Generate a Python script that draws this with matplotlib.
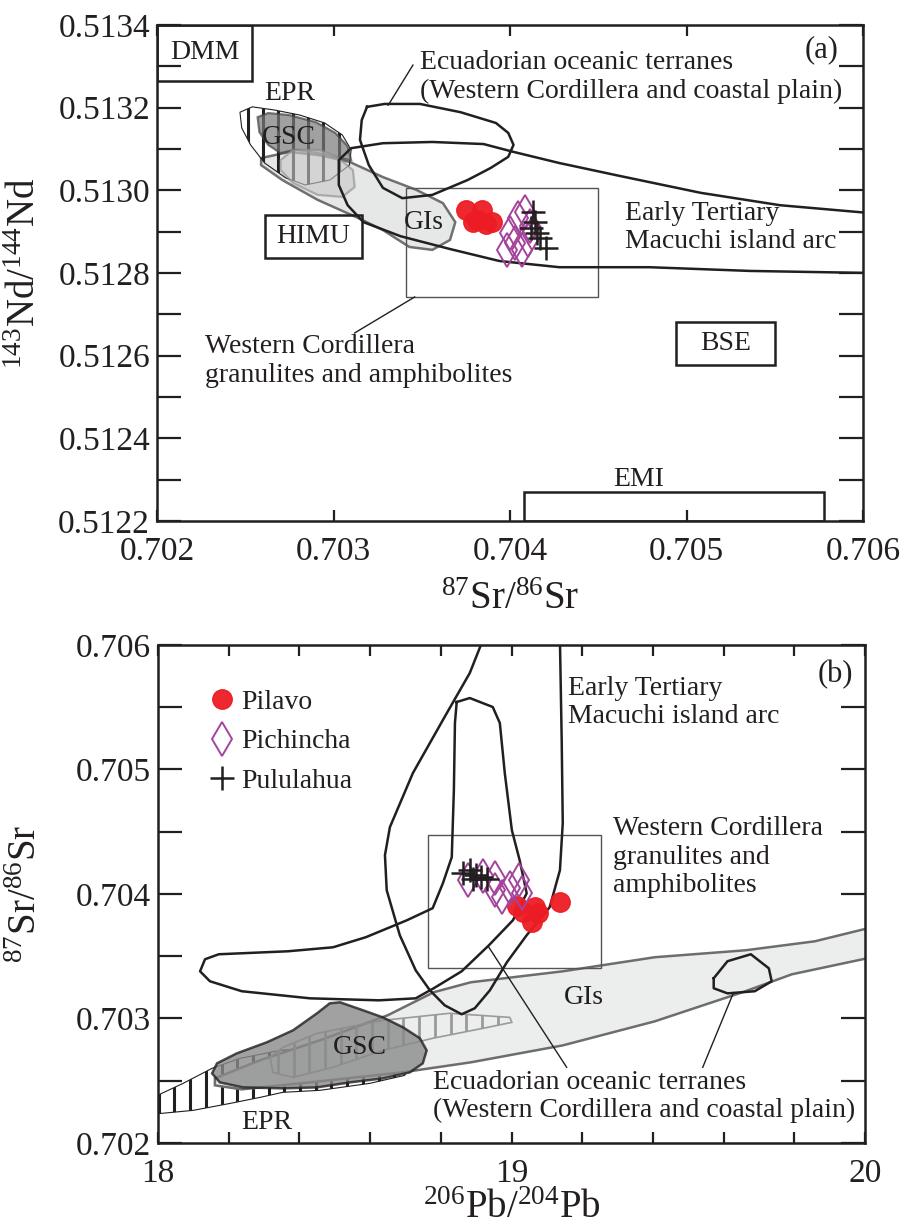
import numpy as np
import matplotlib
matplotlib.use("Agg")
import matplotlib.pyplot as plt
from matplotlib.patches import Polygon, Rectangle
from matplotlib.ticker import MultipleLocator, FormatStrFormatter

plt.rcParams['font.family'] = ['Liberation Serif', 'DejaVu Serif']
plt.rcParams['mathtext.fontset'] = 'custom'
plt.rcParams['mathtext.rm'] = 'Liberation Serif'
plt.rcParams['mathtext.default'] = 'regular'

INK = '#231f20'
RED = '#ed1c24'
PURPLE = '#a5439c'
FS = 20

# ============================================================
# PANEL (a) DATA  - 87Sr/86Sr vs 143Nd/144Nd
# ============================================================
pil_sr_a = [0.703751, 0.703841, 0.703813, 0.703898, 0.703864, 0.703790]
pil_nd_a = [0.512952, 0.512952, 0.512928, 0.512923, 0.512919, 0.512923]
pic_sr_a = [0.704045, 0.704085, 0.704000, 0.704028, 0.703983, 0.704068, 0.704102, 0.704113]
pic_nd_a = [0.512933, 0.512948, 0.512897, 0.512873, 0.512856, 0.512856, 0.512880, 0.512914]
pul_sr_a = [0.704130, 0.704142, 0.704119, 0.704153, 0.704170, 0.704204]
pul_nd_a = [0.512948, 0.512923, 0.512909, 0.512897, 0.512885, 0.512860]

# mantle reservoirs: name, sr0, sr1, nd0, nd1
reservoirs_a = [
    ("DMM", 0.70200, 0.70254, 0.513265, 0.513400),
    ("HIMU", 0.70261, 0.70316, 0.512836, 0.512940),
    ("BSE", 0.70494, 0.70550, 0.512577, 0.512681),
    ("EMI", 0.70408, 0.70578, 0.512200, 0.512270),
]

# field outlines
epr_sr_a = [0.70247, 0.70254, 0.70267, 0.70281, 0.70295, 0.70305, 0.70310,
            0.70309, 0.70298, 0.70284, 0.70273, 0.70261, 0.70253, 0.70248]
epr_nd_a = [0.513189, 0.513202, 0.513194, 0.513182, 0.513163, 0.513134, 0.513098,
            0.513061, 0.513025, 0.513013, 0.513030, 0.513066, 0.513110, 0.513151]
gsc_sr_a = [0.70257, 0.70263, 0.70275, 0.70290, 0.70301, 0.70308, 0.70310,
            0.70303, 0.70291, 0.70278, 0.70270, 0.70263, 0.70258]
gsc_nd_a = [0.513177, 0.513187, 0.513182, 0.513165, 0.513139, 0.513107, 0.513073,
            0.513078, 0.513090, 0.513098, 0.513090, 0.513110, 0.513141]
gis_sr_a = [0.70259, 0.70275, 0.70292, 0.70309, 0.70328, 0.70347, 0.70362, 0.70369,
            0.70366, 0.70356, 0.70343, 0.70328, 0.70313, 0.70291, 0.70271, 0.70259]
gis_nd_a = [0.513078, 0.513093, 0.513085, 0.513069, 0.513032, 0.513001, 0.512969, 0.512923,
            0.512880, 0.512856, 0.512863, 0.512904, 0.512935, 0.512977, 0.513025, 0.513061]
mid_sr_a = [0.70270, 0.70277, 0.70292, 0.70302, 0.70311, 0.70312, 0.70305, 0.70291, 0.70277, 0.70270]
mid_nd_a = [0.513073, 0.513098, 0.513098, 0.513081, 0.513049, 0.513008, 0.512984, 0.512989,
            0.513018, 0.513049]
ecu_sr_a = [0.70319, 0.70329, 0.70349, 0.70372, 0.70392, 0.70399, 0.70402, 0.70399,
            0.70389, 0.70376, 0.70356, 0.70339, 0.70328, 0.70320, 0.70315, 0.70316]
ecu_nd_a = [0.513202, 0.513209, 0.513209, 0.513189, 0.513163, 0.513139, 0.513110, 0.513081,
            0.513054, 0.513025, 0.512989, 0.512981, 0.513006, 0.513061, 0.513122, 0.513170]
mac_sr_a = [0.70604, 0.70553, 0.70508, 0.70462, 0.70428, 0.70402, 0.70385, 0.70356,
            0.70328, 0.70310, 0.70303, 0.70303, 0.70308, 0.70317, 0.70338, 0.70366,
            0.70394, 0.70428, 0.70479, 0.70536, 0.70604]
mac_nd_a = [0.512945, 0.512964, 0.512994, 0.513035, 0.513066, 0.513093, 0.513112, 0.513117,
            0.513114, 0.513102, 0.513073, 0.513013, 0.512964, 0.512923, 0.512889, 0.512858,
            0.512829, 0.512814, 0.512814, 0.512805, 0.512800]
wc_box_a = (0.70341, 0.70450, 0.512742, 0.513006)

# ============================================================
# PANEL (b) DATA  - 206Pb/204Pb vs 87Sr/86Sr
# ============================================================
pil_pb = [19.015, 19.032, 19.066, 19.074, 19.057, 19.137]
pil_sr = [0.703902, 0.703854, 0.703894, 0.703846, 0.703773, 0.703934]
pic_pb = [18.876, 18.919, 18.953, 18.953, 18.995, 19.021, 18.973, 19.029]
pic_sr = [0.704111, 0.704143, 0.704127, 0.704031, 0.704047, 0.704111, 0.703974, 0.704006]
pul_pb = [18.862, 18.882, 18.899, 18.913, 18.930, 18.891]
pul_sr = [0.704167, 0.704191, 0.704151, 0.704135, 0.704119, 0.704119]

mac_pb = [18.919, 18.882, 18.817, 18.721, 18.656, 18.642, 18.647, 18.684, 18.729, 18.769,
          18.811, 18.859, 18.896, 18.939, 18.987, 19.043, 19.108, 19.137, 19.145, 19.142, 19.137]
mac_sr = [0.706040, 0.705775, 0.705453, 0.704971, 0.704537, 0.704312, 0.704030, 0.703669,
          0.703387, 0.703227, 0.703106, 0.703034, 0.703082, 0.703227, 0.703452, 0.703669,
          0.703894, 0.704191, 0.704569, 0.705236, 0.706040]
ecu_pb = [18.845, 18.882, 18.947, 18.967, 18.981, 19.001, 19.023, 19.043, 19.004, 18.936,
          18.859, 18.780, 18.729, 18.625, 18.430, 18.237, 18.147, 18.119, 18.133, 18.172,
          18.368, 18.495, 18.588, 18.704, 18.777, 18.806, 18.831, 18.837, 18.840]
ecu_sr = [0.705542, 0.705574, 0.705502, 0.705373, 0.704971, 0.704513, 0.704272, 0.704006,
          0.703789, 0.703588, 0.703379, 0.703243, 0.703162, 0.703146, 0.703162, 0.703219,
          0.703299, 0.703379, 0.703476, 0.703516, 0.703540, 0.703572, 0.703653, 0.703789,
          0.703886, 0.704087, 0.704296, 0.704834, 0.705373]
ecu2_pb = [19.572, 19.611, 19.677, 19.728, 19.736, 19.688, 19.611, 19.572]
ecu2_sr = [0.703323, 0.703460, 0.703516, 0.703403, 0.703299, 0.703219, 0.703202, 0.703243]
gis_pb = [18.161, 18.288, 18.458, 18.650, 18.780, 18.885, 19.145, 19.405, 19.662, 19.858,
          20.02, 20.02, 19.793, 19.662, 19.405, 19.145, 18.885, 18.690, 18.430, 18.237, 18.161]
gis_sr = [0.702519, 0.702664, 0.702825, 0.703026, 0.703211, 0.703291, 0.703379, 0.703492,
          0.703548, 0.703620, 0.703733, 0.703492, 0.703355, 0.703219, 0.702977, 0.702784,
          0.702648, 0.702567, 0.702487, 0.702431, 0.702463]
ell_pb = [18.317, 18.353, 18.450, 18.636, 18.825, 18.995, 19.001, 18.919, 18.777, 18.636,
          18.495, 18.382, 18.325]
ell_sr = [0.702688, 0.702768, 0.702881, 0.702985, 0.703042, 0.703009, 0.702969, 0.702921,
          0.702841, 0.702744, 0.702608, 0.702527, 0.702567]
gsc_pb = [18.515, 18.580, 18.636, 18.693, 18.741, 18.760, 18.749, 18.712, 18.636, 18.543,
          18.450, 18.353, 18.240, 18.175, 18.153, 18.167, 18.223, 18.308, 18.382, 18.450, 18.486]
gsc_sr = [0.703130, 0.703066, 0.703009, 0.702929, 0.702841, 0.702744, 0.702640, 0.702567,
          0.702519, 0.702487, 0.702447, 0.702439, 0.702447, 0.702487, 0.702559, 0.702640,
          0.702720, 0.702809, 0.702905, 0.703042, 0.703122]
epr_pb = [17.98, 18.071, 18.153, 18.232, 18.345, 18.486, 18.628, 18.712, 18.698, 18.599,
          18.458, 18.353, 18.288, 18.204, 18.099, 17.98]
epr_sr = [0.702358, 0.702479, 0.702600, 0.702680, 0.702744, 0.702776, 0.702760, 0.702664,
          0.702543, 0.702479, 0.702423, 0.702407, 0.702366, 0.702318, 0.702262, 0.702230]
wc_box_b = (18.763, 19.252, 0.703404, 0.704473)


def field(ax, xs, ys, face, edge, lw, alpha=1.0, z=2):
    poly = Polygon(np.column_stack([xs, ys]), closed=True, facecolor=face,
                   edgecolor=edge, lw=lw, alpha=alpha, zorder=z)
    ax.add_patch(poly)
    return poly


def hatch_lines(ax, poly, xs, ys, step, color, lw, z):
    # vertical hatching clipped to the field outline
    for x in np.arange(min(xs) + step / 2, max(xs), step):
        ln, = ax.plot([x, x], [min(ys), max(ys)], color=color, lw=lw, zorder=z)
        ln.set_clip_path(poly)


def outline(ax, xs, ys, closed=True, color=INK, lw=1.8, z=4):
    xs = list(xs) + ([xs[0]] if closed else [])
    ys = list(ys) + ([ys[0]] if closed else [])
    ax.plot(xs, ys, color=color, lw=lw, zorder=z, solid_joinstyle='round')


def rect(ax, box, lw=1.0, color='#555555', z=3):
    x0, x1, y0, y1 = box
    ax.add_patch(Rectangle((x0, y0), x1 - x0, y1 - y0, fill=False, lw=lw,
                           edgecolor=color, zorder=z))


def style(ax):
    for s in ax.spines.values():
        s.set_linewidth(1.8)
        s.set_color(INK)
    ax.tick_params(which='both', direction='in', top=True, right=True,
                   colors=INK, labelsize=24, width=1.6)
    ax.tick_params(axis='y', which='both', length=17, pad=5)
    ax.tick_params(axis='x', which='both', length=8, pad=11)


def samples(ax, px, py, qx, qy, rx, ry, label=False):
    ax.plot(px, py, 'o', ms=14, color=RED, mec=RED, alpha=0.95, zorder=6,
            label='Pilavo' if label else None, ls='none')
    ax.plot(qx, qy, 'd', ms=17, mfc='none', mec=PURPLE, mew=1.4, zorder=7,
            label='Pichincha' if label else None, ls='none')
    ax.plot(rx, ry, '+', ms=17, color=INK, mew=1.8, zorder=8,
            label='Pululahua' if label else None, ls='none')


fig = plt.figure(figsize=(9.06, 12.32), dpi=100)
ax1 = fig.add_axes([157 / 906, 1 - 521 / 1232, 706 / 906, 496 / 1232])
ax2 = fig.add_axes([158 / 906, 1 - 1143 / 1232, 707 / 906, 498 / 1232])

# ------------------------- panel (a) -------------------------
field(ax1, gis_sr_a, gis_nd_a, '#e6e8e8', '#707070', 1.8, z=1)
epr = field(ax1, epr_sr_a, epr_nd_a, 'none', INK, 0.8, z=1.5)
hatch_lines(ax1, epr, epr_sr_a, epr_nd_a, 0.000086, INK, 2.2, 1.6)
field(ax1, gsc_sr_a, gsc_nd_a, '#7a7a7a', '#444444', 1.6, alpha=0.7, z=2.2)
field(ax1, mid_sr_a, mid_nd_a, '#c8c8c8', '#8a8a8a', 1.6, alpha=0.6, z=2.4)
outline(ax1, ecu_sr_a, ecu_nd_a)
outline(ax1, mac_sr_a, mac_nd_a, closed=False)
rect(ax1, wc_box_a)
for name, x0, x1, y0, y1 in reservoirs_a:
    rect(ax1, (x0, x1, y0, y1), lw=1.8, color=INK)
    if name == "EMI":
        ax1.text((x0 + x1) / 2 - 0.00020, y1 + 0.000030, name, fontsize=FS,
                 color=INK, ha='center', va='center')
    else:
        ax1.text((x0 + x1) / 2, (y0 + y1) / 2, name, fontsize=FS, color=INK,
                 ha='center', va='center')
samples(ax1, pil_sr_a, pil_nd_a, pic_sr_a, pic_nd_a, pul_sr_a, pul_nd_a)

ax1.plot([0.70331, 0.70345], [0.513206, 0.513303], color=INK, lw=1.0, zorder=4)
ax1.plot([0.70312, 0.70346], [0.512655, 0.512742], color=INK, lw=1.0, zorder=4)
ax1.text(0.70349, 0.513310, "Ecuadorian oceanic terranes", fontsize=FS, color=INK, va='center')
ax1.text(0.70349, 0.513240, "(Western Cordillera and coastal plain)", fontsize=FS,
         color=INK, va='center')
ax1.text(0.70465, 0.512945, "Early Tertiary", fontsize=FS, color=INK, va='center')
ax1.text(0.70465, 0.512875, "Macuchi island arc", fontsize=FS, color=INK, va='center')
ax1.text(0.70227, 0.512621, "Western Cordillera", fontsize=FS, color=INK, va='center')
ax1.text(0.70227, 0.512551, "granulites and amphibolites", fontsize=FS, color=INK, va='center')
ax1.text(0.70275, 0.513235, "EPR", fontsize=FS, color=INK, ha='center', va='center')
ax1.text(0.70275, 0.513127, "GSC", fontsize=FS, color=INK, ha='center', va='center', zorder=5)
ax1.text(0.70351, 0.512921, "GIs", fontsize=FS, color=INK, ha='center', va='center', zorder=5)
ax1.text(0.70586, 0.513340, "(a)", fontsize=22, color=INK, ha='right', va='center')

ax1.set_xlim(0.702, 0.706)
ax1.set_ylim(0.5122, 0.5134)
ax1.xaxis.set_major_locator(MultipleLocator(0.001))
ax1.xaxis.set_major_formatter(FormatStrFormatter('%.3f'))
ax1.yaxis.set_major_locator(MultipleLocator(0.0002))
ax1.yaxis.set_minor_locator(MultipleLocator(0.0001))
ax1.yaxis.set_major_formatter(FormatStrFormatter('%.4f'))
style(ax1)
ax1.set_xlabel(r'$^{87}$Sr/$^{86}$Sr', fontsize=28, color=INK)
ax1.set_ylabel(r'$^{143}$Nd/$^{144}$Nd', fontsize=28, color=INK)
ax1.xaxis.set_label_coords(0.5, -0.12)
ax1.yaxis.set_label_coords(-0.16, 0.5)

# ------------------------- panel (b) -------------------------
epr_b = field(ax2, epr_pb, epr_sr, 'white', INK, 0.8, z=1)
hatch_lines(ax2, epr_b, epr_pb, epr_sr, 0.0444, INK, 2.2, 1.1)
field(ax2, gis_pb, gis_sr, '#eceeed', '#6d6d6d', 1.8, z=2)
ell = field(ax2, ell_pb, ell_sr, 'none', '#9a9a9a', 1.2, z=2.2)
hatch_lines(ax2, ell, ell_pb, ell_sr, 0.0444, '#9a9a9a', 2.0, 2.1)
field(ax2, gsc_pb, gsc_sr, '#8a8a8a', INK, 1.8, alpha=0.8, z=2.5)
outline(ax2, mac_pb, mac_sr, closed=False)
outline(ax2, ecu_pb, ecu_sr)
outline(ax2, ecu2_pb, ecu2_sr)
rect(ax2, wc_box_b)
samples(ax2, pil_pb, pil_sr, pic_pb, pic_sr, pul_pb, pul_sr, label=True)

ax2.plot([18.936, 19.156], [0.703572, 0.702608], color=INK, lw=1.0, zorder=4)
ax2.plot([19.626, 19.541], [0.703194, 0.702608], color=INK, lw=1.0, zorder=4)
ax2.text(19.159, 0.705654, "Early Tertiary", fontsize=FS, color=INK, va='center')
ax2.text(19.159, 0.705429, "Macuchi island arc", fontsize=FS, color=INK, va='center')
ax2.text(19.286, 0.704529, "Western Cordillera", fontsize=FS, color=INK, va='center')
ax2.text(19.286, 0.704296, "granulites and", fontsize=FS, color=INK, va='center')
ax2.text(19.286, 0.704071, "amphibolites", fontsize=FS, color=INK, va='center')
ax2.text(18.777, 0.702487, "Ecuadorian oceanic terranes", fontsize=FS, color=INK,
         va='center', zorder=5)
ax2.text(18.777, 0.702262, "(Western Cordillera and coastal plain)", fontsize=FS,
         color=INK, va='center', zorder=5)
ax2.text(19.204, 0.703170, "GIs", fontsize=FS, color=INK, ha='center', va='center', zorder=5)
ax2.text(18.571, 0.702768, "GSC", fontsize=FS, color=INK, ha='center', va='center', zorder=5)
ax2.text(18.308, 0.702165, "EPR", fontsize=FS, color=INK, ha='center', va='center', zorder=5)
ax2.text(19.965, 0.705759, "(b)", fontsize=22, color=INK, ha='right', va='center')

ax2.legend(loc='upper left', bbox_to_anchor=(0.055, 0.933), frameon=False,
           fontsize=FS, handlelength=1.0, handletextpad=0.2, labelspacing=0.5,
           borderaxespad=0, labelcolor=INK)

ax2.set_xlim(18, 20)
ax2.set_ylim(0.702, 0.706)
ax2.xaxis.set_major_locator(MultipleLocator(1))
ax2.xaxis.set_minor_locator(MultipleLocator(0.2))
ax2.xaxis.set_major_formatter(FormatStrFormatter('%d'))
ax2.yaxis.set_major_locator(MultipleLocator(0.001))
ax2.yaxis.set_minor_locator(MultipleLocator(0.0005))
ax2.yaxis.set_major_formatter(FormatStrFormatter('%.3f'))
style(ax2)
ax2.set_xlabel(r'$^{206}$Pb/$^{204}$Pb', fontsize=28, color=INK)
ax2.set_ylabel(r'$^{87}$Sr/$^{86}$Sr', fontsize=28, color=INK)
ax2.xaxis.set_label_coords(0.5, -0.095)
ax2.yaxis.set_label_coords(-0.16, 0.5)

fig.savefig("out.png", dpi=100)
